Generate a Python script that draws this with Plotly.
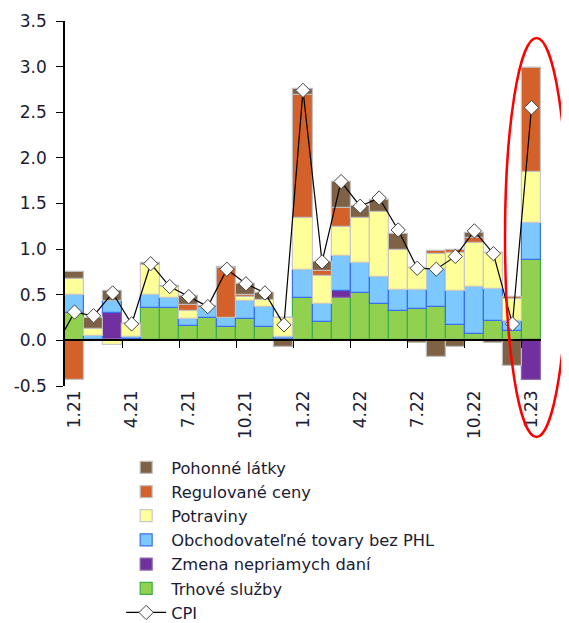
import plotly.graph_objects as go

months = ["1.21", "2.21", "3.21", "4.21", "5.21", "6.21", "7.21", "8.21", "9.21", "10.21", "11.21", "12.21",
          "1.22", "2.22", "3.22", "4.22", "5.22", "6.22", "7.22", "8.22", "9.22", "10.22", "11.22", "12.22", "1.23"]
tick_labels = ["1.21", "4.21", "7.21", "10.21", "1.22", "4.22", "7.22", "10.22", "1.23"]
y_ticks = [-0.5, 0.0, 0.5, 1.0, 1.5, 2.0, 2.5, 3.0, 3.5]

trhove_sluzby = [0.30, 0.00, 0.00, 0.01, 0.36, 0.36, 0.16, 0.24, 0.15, 0.23, 0.15, 0.01,
                 0.46, 0.20, 0.46, 0.52, 0.40, 0.32, 0.34, 0.37, 0.17, 0.07, 0.21, 0.10, 0.88]
zmena_dani = [0.00, 0.00, 0.30, 0.00, 0.00, 0.00, 0.00, 0.00, 0.00, 0.00, 0.00, 0.00,
              0.00, 0.00, 0.08, 0.00, 0.00, 0.00, 0.00, 0.00, 0.00, 0.00, 0.00, 0.00, -0.43]
obchodovatelne = [0.20, 0.05, 0.13, 0.03, 0.14, 0.10, 0.07, 0.12, 0.10, 0.20, 0.22, 0.03,
                  0.31, 0.20, 0.38, 0.33, 0.29, 0.23, 0.21, 0.41, 0.37, 0.51, 0.35, 0.11, 0.41]
potraviny = [0.17, 0.07, -0.05, 0.14, 0.33, 0.12, 0.09, 0.00, 0.00, 0.05, 0.07, 0.20,
             0.57, 0.31, 0.32, 0.49, 0.72, 0.44, 0.24, 0.17, 0.42, 0.49, 0.40, 0.24, 0.55]
regulovane = [-0.43, 0.00, 0.00, 0.00, 0.00, 0.00, 0.07, 0.00, 0.54, 0.02, 0.00, 0.00,
              1.35, 0.05, 0.21, 0.00, 0.00, 0.00, 0.00, 0.03, 0.03, 0.05, 0.00, 0.02, 1.14]
pohonne = [0.075, 0.12, 0.11, 0.00, 0.02, 0.02, 0.10, 0.02, 0.01, 0.12, 0.08, -0.07,
           0.06, 0.10, 0.29, 0.13, 0.13, 0.18, -0.03, -0.18, -0.07, 0.06, -0.03, -0.28, 0.00]
cpi = [0.31, 0.27, 0.52, 0.18, 0.84, 0.59, 0.48, 0.37, 0.78, 0.62, 0.52, 0.17,
       2.74, 0.86, 1.74, 1.47, 1.56, 1.21, 0.79, 0.78, 0.92, 1.20, 0.95, 0.18, 2.55]
cpi_prev_month = -0.07  # 12.20, only its segment into the chart is visible

FONT = "Verdana, DejaVu Sans, sans-serif"
TXT = "#1c1c34"

x_idx = list(range(len(months)))

series = [
    ("Trhové služby", trhove_sluzby, "#92D050", "#3DAE4A", 6),
    ("Zmena nepriamych daní", zmena_dani, "#7030A0", "#8a6aa8", 5),
    ("Obchodovateľné tovary bez PHL", obchodovatelne, "#7CC8FF", "#3A6FF0", 4),
    ("Potraviny", potraviny, "#FFFF99", "#C8C8C8", 3),
    ("Regulované ceny", regulovane, "#D4602A", "#C0C0C0", 2),
    ("Pohonné látky", pohonne, "#7F6145", "#BDBDBD", 1),
]

fig = go.Figure()
for name, vals, col, lcol, rank in series:
    fig.add_trace(go.Bar(
        x=x_idx, y=vals, name=name, legendrank=rank,
        marker=dict(color=col, line=dict(color=lcol, width=1.2)),
        hoverinfo="skip",
    ))

fig.add_trace(go.Scatter(
    x=[-1] + x_idx, y=[cpi_prev_month] + cpi, name="CPI", legendrank=7,
    mode="lines+markers", xaxis="x2",
    line=dict(color="black", width=1.2),
    marker=dict(symbol="diamond", size=11, color="white", line=dict(color="#444", width=1)),
    cliponaxis=True,
))

# the page body adds an 8 px offset, so the figure is 8 px smaller and margins shifted
fig.update_layout(
    width=561, height=615,
    margin=dict(l=57, r=28, t=13, b=237, autoexpand=False),
    paper_bgcolor="white", plot_bgcolor="white",
    barmode="relative", bargap=0,
    font=dict(family=FONT, size=17, color=TXT),
    showlegend=True,
    legend=dict(
        x=0.118, y=-0.176, xanchor="left", yanchor="top",
        font=dict(family=FONT, size=16.3, color=TXT),
        bgcolor="rgba(0,0,0,0)", tracegroupgap=0, itemwidth=40,
    ),
    xaxis=dict(
        range=[-0.5, 24.5], tickmode="array", automargin=False,
        tickvals=[months.index(t) for t in tick_labels], ticktext=tick_labels,
        tickangle=-90, ticks="", showline=False, showgrid=False, zeroline=False,
        tickfont=dict(family=FONT, size=17, color=TXT),
    ),
    xaxis2=dict(
        range=[-0.5, 24.5], overlaying="x", anchor="free", position=0.125, automargin=False,
        showline=True, linecolor="black", linewidth=1.5,
        ticks="outside", ticklen=7, tickwidth=1.2, tickcolor="black",
        tickmode="array", tickvals=[2.5 + 3 * k for k in range(8)],
        showticklabels=False, showgrid=False, zeroline=False,
    ),
    yaxis=dict(
        range=[-0.5, 3.5], tickmode="array", automargin=False,
        tickvals=y_ticks, ticktext=[f"{v:.1f}" for v in y_ticks],
        showline=True, linecolor="black", linewidth=1.5,
        ticks="outside", ticklen=7, tickwidth=1.2, tickcolor="black",
        showgrid=False, zeroline=False, ticklabelstandoff=6,
        tickfont=dict(family=FONT, size=17, color=TXT),
    ),
    shapes=[dict(
        type="circle", xref="paper", yref="paper",
        x0=(505 - 65) / 476, x1=(568 - 65) / 476,
        y0=(386 - 437) / 365, y1=(386 - 38) / 365,
        line=dict(color="#FF0000", width=2.5), layer="above",
    )],
)

fig.write_html("out.html")
